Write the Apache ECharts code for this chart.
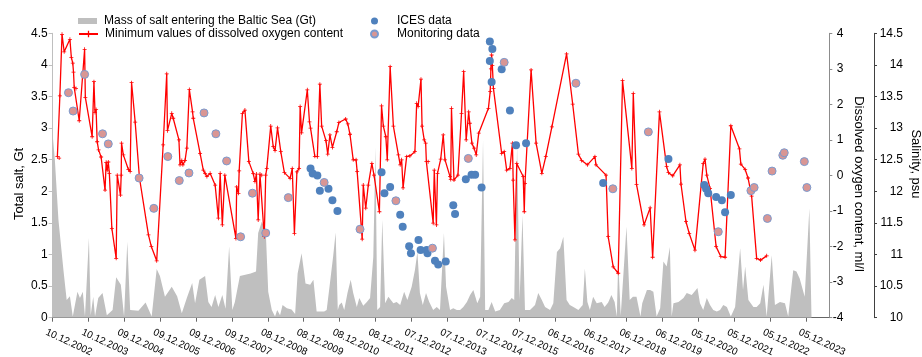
<!DOCTYPE html>
<html><head><meta charset="utf-8">
<script src="https://cdn.jsdelivr.net/npm/echarts@6/dist/echarts.min.js"></script>
<style>html,body{margin:0;padding:0;background:#fff;}#c{width:922px;height:357px;}</style>
</head><body><div id="c"></div>
<script>
// ---- data (x = decimal calendar year) ----
const xTickLabels = ['10.12.2002','10.12.2003','09.12.2004','09.12.2005','09.12.2006','09.12.2007','08.12.2008','08.12.2009','08.12.2010','08.12.2011','07.12.2012','07.12.2013','07.12.2014','07.12.2015','06.12.2016','06.12.2017','06.12.2018','06.12.2019','05.12.2020','05.12.2021','05.12.2022','05.12.2023'];
const xStartYear = 2002.94;   // 10.12.2002
const xEndYear = 2024.596;
const tickStepYears = 1;

// Mass of salt entering the Baltic Sea (Gt)
const saltSeries = [
[2002.94,2.89],[2003.00,2.50],[2003.10,1.55],[2003.24,0.75],[2003.33,0.28],[2003.42,0.34],[2003.50,0.02],[2003.63,0.41],[2003.70,0.31],[2003.78,0.41],
[2003.84,0.02],[2003.95,1.26],[2004.00,0.04],[2004.07,0.33],[2004.12,0.02],[2004.21,0.31],[2004.33,0.39],[2004.45,0.04],[2004.61,0.12],[2004.71,0.64],
[2004.84,0.52],[2004.93,0.02],[2005.02,1.20],[2005.10,0.12],[2005.33,0.11],[2005.53,0.24],[2005.70,0.02],[2005.84,0.77],[2005.93,0.66],[2006.07,0.33],
[2006.26,0.49],[2006.41,0.34],[2006.54,0.07],[2006.68,0.31],[2006.83,0.55],[2006.91,0.23],[2007.03,0.60],[2007.19,0.66],[2007.28,0.25],[2007.37,0.17],
[2007.47,0.36],[2007.56,0.17],[2007.67,0.36],[2007.76,0.14],[2007.86,1.13],[2007.95,0.12],[2008.02,0.25],[2008.16,0.66],[2008.46,0.70],[2008.61,0.73],
[2008.67,1.34],[2008.77,1.52],[2008.88,1.39],[2008.95,0.41],[2009.05,0.12],[2009.14,0.02],[2009.20,0.12],[2009.28,0.04],[2009.35,0.20],[2009.47,0.15],
[2009.60,0.13],[2009.70,0.06],[2009.77,0.70],[2009.88,1.02],[2009.99,0.54],[2010.12,0.52],[2010.21,0.60],[2010.30,0.10],[2010.39,0.10],[2010.51,0.10],
[2010.58,0.12],[2010.67,0.54],[2010.76,0.97],[2010.83,1.35],[2010.89,0.12],[2010.93,0.20],[2011.00,0.24],[2011.07,0.12],[2011.16,0.39],[2011.25,0.60],
[2011.32,0.39],[2011.42,0.17],[2011.49,0.31],[2011.60,0.19],[2011.70,0.25],[2011.79,0.31],[2011.88,0.96],[2011.94,2.70],[2011.99,0.12],[2012.07,0.17],
[2012.13,1.55],[2012.21,0.23],[2012.30,0.33],[2012.44,0.23],[2012.53,0.25],[2012.63,0.20],[2012.74,0.41],[2012.83,0.28],[2012.95,0.49],[2013.04,0.75],
[2013.11,1.04],[2013.18,0.39],[2013.26,0.20],[2013.35,0.39],[2013.44,0.25],[2013.55,0.12],[2013.65,0.17],[2013.74,0.12],[2013.85,1.34],[2013.91,0.49],
[2014.02,0.12],[2014.11,0.15],[2014.21,0.12],[2014.30,0.12],[2014.39,0.17],[2014.49,0.25],[2014.58,0.36],[2014.67,0.44],[2014.78,0.23],[2014.86,0.33],
[2014.94,2.81],[2015.00,0.12],[2015.09,0.12],[2015.18,0.25],[2015.28,0.10],[2015.41,0.12],[2015.53,0.23],[2015.65,0.25],[2015.74,0.31],[2015.81,0.28],
[2015.89,2.73],[2015.96,0.28],[2016.04,1.62],[2016.11,0.12],[2016.25,0.12],[2016.39,0.20],[2016.48,0.39],[2016.58,0.28],[2016.67,0.17],[2016.81,0.12],
[2016.90,0.23],[2017.00,1.04],[2017.09,1.10],[2017.18,1.28],[2017.27,0.28],[2017.36,0.20],[2017.46,0.17],[2017.60,0.12],[2017.72,0.20],[2017.78,0.78],
[2017.85,0.25],[2017.92,0.12],[2018.01,0.33],[2018.11,0.23],[2018.25,0.25],[2018.33,0.17],[2018.43,0.24],[2018.52,0.36],[2018.61,0.25],[2018.67,0.02],
[2018.71,0.91],[2018.78,0.03],[2018.94,1.44],[2019.03,0.28],[2019.12,0.33],[2019.22,0.33],[2019.33,0.02],[2019.38,0.23],[2019.51,0.44],[2019.60,0.44],
[2019.69,0.41],[2019.78,0.02],[2019.88,0.15],[2019.97,0.89],[2020.06,0.81],[2020.15,1.12],[2020.20,0.02],[2020.25,0.23],[2020.39,0.25],[2020.53,0.31],
[2020.62,0.39],[2020.76,0.36],[2020.92,0.47],[2020.99,0.23],[2021.08,0.12],[2021.18,0.31],[2021.27,0.20],[2021.36,0.12],[2021.46,0.10],[2021.55,0.12],
[2021.64,0.20],[2021.74,0.17],[2021.85,0.02],[2021.97,0.17],[2022.11,1.10],[2022.19,0.44],[2022.25,0.81],[2022.34,0.28],[2022.48,0.17],[2022.57,0.17],
[2022.67,0.23],[2022.76,0.52],[2022.85,0.02],[2022.99,0.99],[2023.08,0.20],[2023.22,0.25],[2023.36,0.23],[2023.45,0.02],[2023.59,0.75],[2023.68,0.73],
[2023.77,0.62],[2023.91,0.33],[2024.04,1.73],[2024.10,0.00]
];

// Minimum values of dissolved oxygen content (ml/l)
const oxygenSeries = [
[2003.07,0.53],[2003.12,0.49],[2003.14,2.24],[2003.20,3.97],[2003.26,3.48],[2003.42,3.83],[2003.46,3.32],[2003.50,3.16],[2003.52,2.91],[2003.54,2.48],
[2003.59,2.45],[2003.68,1.54],[2003.83,3.55],[2003.85,2.20],[2004.04,1.09],[2004.09,2.64],[2004.12,1.77],[2004.15,1.86],[2004.18,0.95],[2004.22,0.72],
[2004.29,0.52],[2004.40,-0.41],[2004.43,0.37],[2004.46,0.15],[2004.49,0.38],[2004.52,0.06],[2004.59,-1.49],[2004.71,-2.33],[2004.74,0.01],[2004.83,-0.55],
[2004.85,0.01],[2004.86,0.91],[2004.91,0.58],[2005.05,0.17],[2005.10,0.11],[2005.14,2.61],[2005.24,1.50],[2005.36,-0.07],[2005.61,-1.67],[2005.69,-2.00],
[2005.84,-2.40],[2006.02,0.86],[2006.12,2.86],[2006.14,1.26],[2006.26,1.75],[2006.30,1.61],[2006.46,1.00],[2006.49,0.30],[2006.54,0.42],[2006.57,0.30],
[2006.63,0.42],[2006.68,0.77],[2006.75,2.42],[2006.84,1.79],[2006.86,1.61],[2007.05,0.62],[2007.14,0.15],[2007.19,0.06],[2007.24,-0.03],[2007.33,0.06],
[2007.47,-0.27],[2007.56,-1.20],[2007.61,0.06],[2007.67,-1.39],[2007.74,0.01],[2008.05,-1.77],[2008.07,-0.32],[2008.12,-0.50],[2008.14,0.13],[2008.23,1.75],
[2008.30,1.84],[2008.41,0.39],[2008.53,0.06],[2008.58,-0.17],[2008.62,0.04],[2008.67,-1.25],[2008.72,0.04],[2008.77,0.01],[2008.84,-1.72],[2008.88,0.01],
[2008.91,0.20],[2009.02,1.39],[2009.09,0.81],[2009.14,0.70],[2009.21,1.34],[2009.30,0.67],[2009.40,0.08],[2009.56,-0.08],[2009.62,0.20],[2009.68,-1.63],
[2009.75,0.10],[2009.81,0.20],[2009.84,1.94],[2009.88,1.20],[2010.04,2.41],[2010.10,1.51],[2010.13,1.33],[2010.25,0.54],[2010.32,0.53],[2010.39,2.57],
[2010.44,1.39],[2010.56,0.98],[2010.61,0.60],[2010.67,1.14],[2010.74,0.79],[2010.86,1.23],[2010.92,1.49],[2011.11,1.59],[2011.17,1.45],[2011.23,1.16],
[2011.32,0.44],[2011.40,0.44],[2011.43,0.11],[2011.57,-1.79],[2011.60,-0.27],[2011.67,-0.92],[2011.74,-0.27],[2011.84,0.34],[2011.90,0.01],[2012.05,-1.02],
[2012.11,1.96],[2012.16,1.39],[2012.23,1.09],[2012.27,0.44],[2012.35,3.06],[2012.44,1.39],[2012.58,0.58],[2012.63,0.30],[2012.67,0.44],[2012.71,-0.35],
[2012.81,0.53],[2012.90,0.55],[2013.04,0.67],[2013.09,2.03],[2013.13,1.94],[2013.21,2.71],[2013.24,1.39],[2013.30,1.00],[2013.34,0.91],[2013.36,0.39],
[2013.41,0.39],[2013.55,-1.34],[2013.58,0.15],[2013.64,-1.39],[2013.67,0.06],[2013.76,0.46],[2013.83,1.14],[2013.88,0.44],[2014.02,-0.03],[2014.04,-0.11],
[2014.06,1.89],[2014.13,-0.13],[2014.24,0.01],[2014.34,1.75],[2014.40,2.92],[2014.47,1.00],[2014.54,1.79],[2014.57,1.47],[2014.63,0.91],[2014.69,0.77],
[2014.75,0.58],[2014.82,1.19],[2015.09,1.89],[2015.14,2.36],[2015.16,3.00],[2015.18,3.39],[2015.20,3.10],[2015.23,2.45],[2015.46,0.62],[2015.53,0.67],
[2015.60,0.15],[2015.69,0.20],[2015.76,0.91],[2015.78,-0.13],[2015.83,-1.81],[2015.88,0.34],[2016.06,-0.03],[2016.09,-1.02],[2016.11,-0.22],[2016.28,2.97],
[2016.42,0.91],[2016.58,0.06],[2016.69,0.53],[2016.86,1.37],[2017.27,3.42],[2017.44,2.01],[2017.60,0.60],[2017.69,0.42],[2017.85,0.30],[2018.06,0.53],
[2018.09,0.30],[2018.37,0.01],[2018.43,-1.72],[2018.57,-2.57],[2018.71,-2.75],[2018.83,2.67],[2019.09,0.20],[2019.13,2.31],[2019.22,-0.25],[2019.43,-1.39],
[2019.60,-0.91],[2019.67,-2.30],[2019.86,1.79],[2020.06,0.25],[2020.11,0.08],[2020.23,-0.01],[2020.43,0.30],[2020.46,-0.24],[2020.60,-1.30],[2020.69,-1.63],
[2020.85,-2.10],[2021.08,0.34],[2021.13,0.46],[2021.18,0.01],[2021.27,-0.36],[2021.44,-2.00],[2021.57,-2.28],[2021.69,-2.30],[2021.85,1.40],[2022.09,0.75],
[2022.13,0.32],[2022.25,0.17],[2022.33,-0.07],[2022.43,-0.58],[2022.57,-2.33],[2022.68,-2.38],[2022.85,-2.26]
];

// ICES data (salinity, psu)
const icesSeries = [
[2010.13,12.36],[2010.19,12.28],[2010.32,12.25],[2010.39,12.01],[2010.63,12.04],[2010.74,11.86],[2010.88,11.69],
[2012.11,12.30],[2012.19,11.97],[2012.35,12.07],[2012.63,11.63],[2012.70,11.44],[2012.88,11.13],[2012.93,11.02],
[2013.14,11.23],[2013.20,11.07],[2013.37,11.07],[2013.39,11.02],[2013.60,10.90],[2013.69,10.84],[2013.90,10.89],
[2014.11,11.78],[2014.16,11.64],[2014.46,12.19],[2014.62,12.26],[2014.72,12.26],[2014.90,12.06],
[2015.13,14.37],[2015.20,14.25],[2015.13,14.06],[2015.18,13.73],[2015.46,13.93],[2015.69,13.28],[2015.86,12.73],[2016.14,12.76],
[2018.29,12.13],[2020.11,12.51],[2021.11,12.10],[2021.16,12.04],[2021.22,11.97],[2021.44,11.91],[2021.60,11.86],[2021.69,11.67],[2021.85,11.94]
];

// Monitoring data (salinity, psu)
const monitoringSeries = [
[2003.38,13.56],[2003.51,13.27],[2003.83,13.85],[2004.33,12.91],[2004.49,12.75],[2005.35,12.21],[2005.76,11.73],[2006.15,12.55],
[2006.47,12.17],[2006.74,12.29],[2007.16,13.24],[2007.49,12.91],[2007.79,12.48],[2008.18,11.28],[2008.51,11.97],[2008.88,11.34],
[2009.51,11.90],[2010.51,12.14],[2011.51,11.40],[2012.51,11.85],[2013.53,11.10],[2014.53,12.52],[2015.53,14.04],[2017.53,13.71],
[2018.56,12.04],[2019.55,12.94],[2021.50,11.36],[2022.41,12.01],[2022.50,12.06],[2022.87,11.57],[2023.00,12.32],[2023.30,12.57],
[2023.34,12.61],[2023.90,12.47],[2023.97,12.06]
];

// ---- chart ----
const FONT = "'Liberation Sans', Arial, sans-serif";
const toX = p => [p[0] - xStartYear, p[1]];
const xMax = xEndYear - xStartYear;
const tickVals = xTickLabels.map((_, i) => i * tickStepYears);

const plusPath = 'path://M2,0H3V2H5V3H3V5H2V3H0V2H2Z';
const gridL = 52.7, gridR = 922 - 829.3, gridT = 33.3, gridB = 357 - 317.7;
const lblShift = 6.5;

const chart = echarts.init(document.getElementById('c'), null, {renderer: 'canvas'});
chart.setOption({
  animation: false,
  backgroundColor: '#fff',
  textStyle: {fontFamily: FONT},
  grid: [
    {left: gridL, right: gridR, top: gridT, bottom: gridB, outerBoundsMode: 'none'},
    {left: gridL - lblShift, right: gridR + lblShift, top: gridT, bottom: gridB, outerBoundsMode: 'none'}
  ],
  legend: [
    {data: [{name: 'Mass of salt entering the Baltic Sea (Gt)', icon: 'rect'}], left: 78, top: 15, padding: 0, itemWidth: 19, itemHeight: 6,
     textStyle: {fontFamily: FONT, fontSize: 12, color: '#000', padding: [0,0,0,2]}},
    {data: ['Minimum values of dissolved oxygen content'], left: 78, top: 28, padding: 0, itemWidth: 19, itemHeight: 8,
     textStyle: {fontFamily: FONT, fontSize: 12, color: '#000', padding: [0,0,0,2]}},
    {data: [{name: 'ICES data', icon: 'circle'}, {name: 'Monitoring data', icon: 'circle'}], orient: 'vertical', left: 370, top: 15, padding: 0,
     itemWidth: 35, itemHeight: 7, itemGap: 1, textStyle: {fontFamily: FONT, fontSize: 12, color: '#000'}}
  ],
  xAxis: [
    {type: 'value', gridIndex: 0, min: 0, max: xMax, interval: tickStepYears,
     axisLine: {show: true, lineStyle: {color: '#666', width: 1}},
     axisTick: {show: true, inside: false, length: 4, customValues: tickVals, lineStyle: {color: '#666'}},
     axisLabel: {show: false}, splitLine: {show: false}},
    {type: 'value', gridIndex: 1, min: 0, max: xMax, interval: tickStepYears,
     axisLine: {show: false}, axisTick: {show: false}, splitLine: {show: false},
     axisLabel: {show: true, customValues: tickVals, rotate: -25, margin: 14, fontSize: 10, color: '#000', fontFamily: FONT,
       formatter: v => xTickLabels[Math.round(v / tickStepYears)] || ''}}
  ],
  yAxis: [
    {type: 'value', gridIndex: 0, position: 'left', min: 0, max: 4.5, interval: 0.5,
     axisLine: {show: true, lineStyle: {color: '#bfbfbf'}},
     axisTick: {show: true, length: 4, lineStyle: {color: '#bfbfbf'}},
     axisLabel: {margin: 5, fontSize: 12, color: '#000', fontFamily: FONT}, splitLine: {show: false}},
    {type: 'value', gridIndex: 0, position: 'right', offset: 0, min: -4, max: 4, interval: 1,
     axisLine: {show: true, lineStyle: {color: '#8c8c8c'}},
     axisTick: {show: true, length: 3, lineStyle: {color: '#8c8c8c'}},
     axisLabel: {margin: 14, align: 'right', fontSize: 12, color: '#000', fontFamily: FONT}, splitLine: {show: false}},
    {type: 'value', gridIndex: 0, position: 'right', offset: 44.7, min: 10, max: 14.5, interval: 0.5,
     axisLine: {show: true, lineStyle: {color: '#404040'}},
     axisTick: {show: true, length: 3, lineStyle: {color: '#404040'}},
     axisLabel: {margin: 29, align: 'right', fontSize: 12, color: '#000', fontFamily: FONT}, splitLine: {show: false}},
    {type: 'value', gridIndex: 1, show: false, min: 0, max: 1}
  ],
  graphic: [
    {type: 'text', x: 19, y: 184, rotation: Math.PI / 2, style: {text: 'Total salt, Gt', fontSize: 13, fontFamily: FONT, fill: '#000', align: 'center', verticalAlign: 'middle'}},
    {type: 'text', x: 859, y: 184, rotation: -Math.PI / 2, style: {text: 'Dissolved oxygen content, ml/l', fontSize: 13, fontFamily: FONT, fill: '#000', align: 'center', verticalAlign: 'middle'}},
    {type: 'text', x: 916, y: 164, rotation: -Math.PI / 2, style: {text: 'Salinity, psu', fontSize: 13, fontFamily: FONT, fill: '#000', align: 'center', verticalAlign: 'middle'}}
  ],
  series: [
    {name: 'Mass of salt entering the Baltic Sea (Gt)', type: 'line', xAxisIndex: 0, yAxisIndex: 0, data: saltSeries.map(toX),
     symbol: 'none', lineStyle: {width: 0, opacity: 0}, itemStyle: {color: '#bfbfbf'}, areaStyle: {color: '#bfbfbf', opacity: 1}, z: 1},
    {name: 'Minimum values of dissolved oxygen content', type: 'line', xAxisIndex: 0, yAxisIndex: 1, data: oxygenSeries.map(toX),
     symbol: plusPath, symbolSize: 4, showSymbol: true, lineStyle: {color: '#ff0000', width: 1.3}, itemStyle: {color: '#ff0000'}, z: 2},
    {name: 'ICES data', type: 'scatter', xAxisIndex: 0, yAxisIndex: 2, data: icesSeries.map(toX),
     symbol: 'circle', symbolSize: 8, itemStyle: {color: '#4f81bd', opacity: 1}, z: 3},
    {name: 'Monitoring data', type: 'scatter', xAxisIndex: 0, yAxisIndex: 2, data: monitoringSeries.map(toX),
     symbol: 'circle', symbolSize: 8, itemStyle: {color: '#d99694', borderColor: '#7a9bd0', borderWidth: 1, opacity: 1}, z: 4}
  ]
});
</script></body></html>
